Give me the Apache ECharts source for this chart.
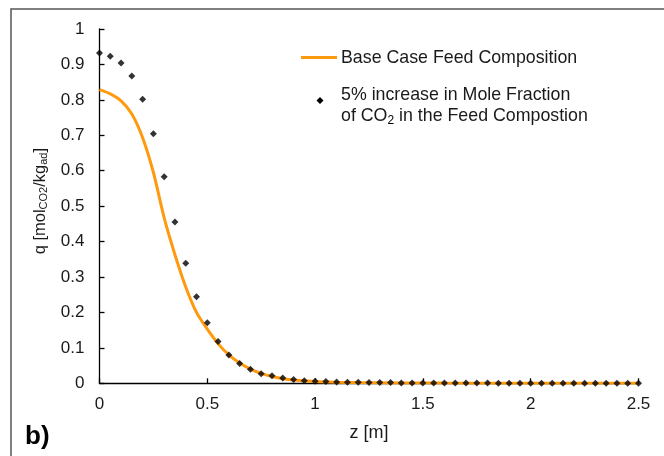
<!DOCTYPE html>
<html>
<head>
<meta charset="utf-8">
<script src="https://cdn.jsdelivr.net/npm/echarts@6/dist/echarts.min.js"></script>
<style>html,body{margin:0;padding:0;background:#fff}#c{width:664px;height:456px}</style>
</head>
<body>
<div id="c"></div>
<script>
// Base case (orange line)
var baseZ = [0, 0.05, 0.1, 0.15, 0.2, 0.25, 0.3, 0.35, 0.4, 0.45, 0.5, 0.55, 0.6, 0.65, 0.7, 0.75, 0.8, 0.85, 0.9, 1.0, 1.1, 1.2, 1.4, 1.6, 1.8, 2.0, 2.5];
var baseQ = [0.829, 0.817, 0.797, 0.76, 0.693, 0.595, 0.467, 0.363, 0.272, 0.2, 0.153, 0.112, 0.08, 0.057, 0.04, 0.028, 0.019, 0.013, 0.009, 0.005, 0.003, 0.002, 0.001, 0.0005, 0.0003, 0.0002, 0];
// 5% increase in CO2 mole fraction (black diamonds)
var incZ = [0, 0.05, 0.1, 0.15, 0.2, 0.25, 0.3, 0.35, 0.4, 0.45, 0.5, 0.55, 0.6, 0.65, 0.7, 0.75, 0.8, 0.85, 0.9, 0.95, 1.0, 1.05, 1.1, 1.15, 1.2, 1.25, 1.3, 1.35, 1.4, 1.45, 1.5, 1.55, 1.6, 1.65, 1.7, 1.75, 1.8, 1.85, 1.9, 1.95, 2.0, 2.05, 2.1, 2.15, 2.2, 2.25, 2.3, 2.35, 2.4, 2.45, 2.5];
var incQ = [0.932, 0.923, 0.904, 0.867, 0.802, 0.704, 0.583, 0.455, 0.339, 0.244, 0.171, 0.118, 0.080, 0.056, 0.040, 0.027, 0.021, 0.015, 0.011, 0.007, 0.006, 0.005, 0.004, 0.003, 0.003, 0.002, 0.002, 0.002, 0.001, 0.001, 0.001, 0.001, 0.001, 0.001, 0.001, 0.001, 0.001, 0, 0, 0, 0, 0, 0, 0, 0, 0, 0, 0, 0, 0, 0];
var xTicks = ['0', '0.5', '1', '1.5', '2', '2.5'];
var seriesNames = ['Base Case Feed Composition', '5% increase in Mole Fraction', 'of CO2 in the Feed Compostion'];

function pairs(a, b) { return a.map(function (v, i) { return [v, b[i]]; }); }

var FONT = '"Liberation Sans", Arial, sans-serif';
var TXT = '#1a1a1a';
var chart = echarts.init(document.getElementById('c'), null, { renderer: 'canvas' });
chart.setOption({
  animation: false,
  backgroundColor: '#fff',
  textStyle: { fontFamily: FONT },
  grid: { left: 99.5, right: 25.5, top: 29, bottom: 72.7, containLabel: false },
  xAxis: {
    type: 'value', min: 0, max: 2.5, interval: 0.5,
    name: 'z [m]', nameLocation: 'middle', nameGap: 41,
    nameTextStyle: { fontSize: 18, color: TXT, fontFamily: FONT },
    axisLine: { lineStyle: { color: '#000', width: 1.3 } },
    axisTick: { inside: true, length: 5, lineStyle: { color: '#000', width: 1.3 } },
    axisLabel: { fontSize: 17, color: TXT, margin: 13, fontFamily: FONT,
      formatter: function (v) { return xTicks[Math.round(v / 0.5)]; } },
    splitLine: { show: false }
  },
  yAxis: {
    type: 'value', min: 0, max: 1, interval: 0.1,
    name: '{n|q [mol}{s|CO2}{n|/kg}{s|ad}{n|]}', nameLocation: 'middle', nameGap: 36,
    nameTextStyle: {
      fontSize: 16, color: TXT, fontFamily: FONT, padding: [0, 0, 0, 10],
      rich: {
        n: { fontSize: 16.5, color: TXT, fontFamily: FONT },
        s: { fontSize: 11, color: TXT, fontFamily: FONT, padding: [9, 0, 0, 0] }
      }
    },
    axisLine: { show: true, lineStyle: { color: '#000', width: 1.3 } },
    axisTick: { show: true, inside: true, length: 5, lineStyle: { color: '#000', width: 1.3 } },
    axisLabel: { fontSize: 17, color: TXT, margin: 15, fontFamily: FONT,
      formatter: function (v) { return String(Math.round(v * 10) / 10); } },
    splitLine: { show: false }
  },
  series: [
    {
      name: seriesNames[0], type: 'line', data: pairs(baseZ, baseQ),
      smooth: 0.3, showSymbol: false, symbol: 'none',
      lineStyle: { color: '#FF9A0F', width: 3 }, z: 2
    },
    {
      name: seriesNames[1], type: 'scatter', data: pairs(incZ, incQ),
      symbol: 'diamond', symbolSize: 7,
      itemStyle: { color: '#000' }, z: 3
    }
  ],
  graphic: [
    { type: 'rect', shape: { x: 11, y: 9, width: 700, height: 500 }, style: { fill: null, stroke: '#555', lineWidth: 1.5 }, silent: true },
    { type: 'line', shape: { x1: 301, y1: 57.5, x2: 337, y2: 57.5 }, style: { stroke: '#FF9A0F', lineWidth: 3 } },
    { type: 'text', x: 341, y: 58, style: { text: seriesNames[0], font: '17.8px ' + FONT, fill: TXT, verticalAlign: 'middle' } },
    { type: 'polygon', shape: { points: [[320, 97], [323.5, 100.5], [320, 104], [316.5, 100.5]] }, style: { fill: '#000' } },
    { type: 'text', x: 341, y: 95, style: { text: seriesNames[1], font: '17.8px ' + FONT, fill: TXT, verticalAlign: 'middle' } },
    { type: 'text', x: 341, y: 116, style: {
      text: '{n|of CO}{s|2}{n| in the Feed Compostion}', verticalAlign: 'middle',
      rich: { n: { fontSize: 17.8, fontFamily: FONT, fill: TXT, color: TXT }, s: { fontSize: 12, fontFamily: FONT, color: TXT, padding: [9, 0, 0, 0] } }
    } },
    { type: 'text', x: 25, y: 437, style: { text: 'b)', font: 'bold 26px ' + FONT, fill: '#000', verticalAlign: 'middle' } }
  ]
});
</script>
</body>
</html>
